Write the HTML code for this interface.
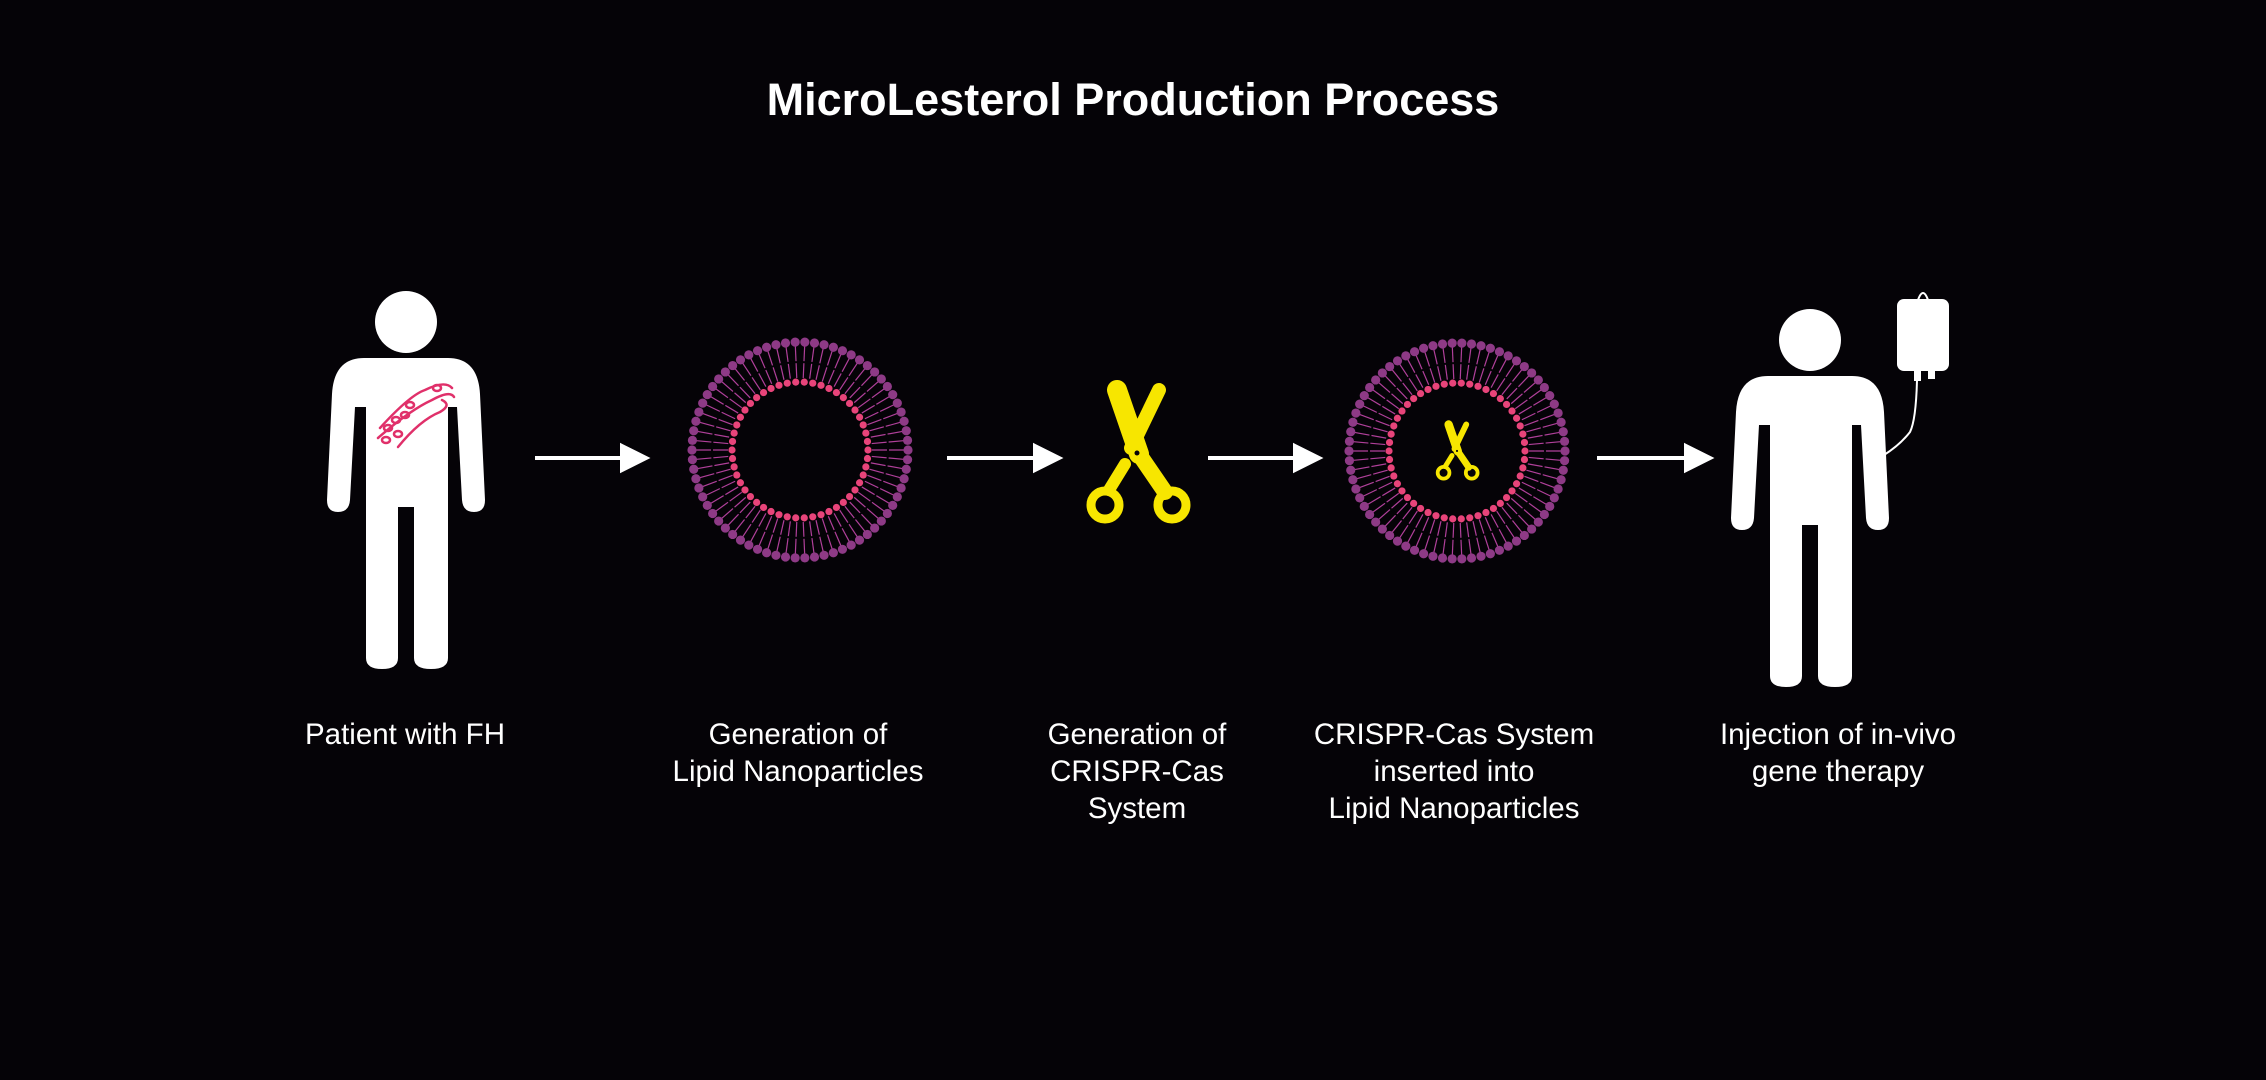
<!DOCTYPE html>
<html><head><meta charset="utf-8">
<style>
html,body{margin:0;padding:0;background:#050307;}
body{width:2266px;height:1080px;position:relative;overflow:hidden;font-family:"Liberation Sans",sans-serif;color:#fff;}
.t{position:absolute;text-align:center;font-size:29.5px;line-height:37px;width:400px;}
h1{position:absolute;margin:0;top:74px;left:0;width:2266px;text-align:center;font-size:45px;font-weight:bold;}
</style></head><body>
<h1>MicroLesterol Production Process</h1>
<svg id="s" width="2266" height="1080" style="position:absolute;left:0;top:0">
<defs>
<g id="person">
<circle cx="0" cy="0" r="31" fill="#fff"/>
<path d="M-42,36 H42 Q72,36 74,72 L79,178 Q79,190 68,190 Q57,190 56,178 L51,85 L42,85 L42,336 Q42,347 25,347 Q8,347 8,336 L8,185 L-8,185 L-8,336 Q-8,347 -24,347 Q-40,347 -40,336 L-40,85 L-51,85 L-56,178 Q-57,190 -68,190 Q-79,190 -79,178 L-74,72 Q-72,36 -42,36Z" fill="#fff"/>
</g>
<g id="sc" stroke="#f7e600" stroke-linecap="round" fill="none">
<line x1="22" y1="-56" x2="-6" y2="2" stroke-width="14"/>
<line x1="-12" y1="18" x2="-28" y2="44" stroke-width="12"/>
<line x1="-20" y1="-56" x2="2" y2="8" stroke-width="20"/>
<line x1="2" y1="8" x2="28" y2="46" stroke-width="16"/>
<circle cx="-32" cy="59" r="14" stroke-width="9"/>
<circle cx="35" cy="59" r="14" stroke-width="9"/>
<circle cx="0" cy="7" r="2.5" fill="#050307" stroke="none"/>
</g>
</defs>
<use href="#person" x="406" y="322"/>
<g fill="none" stroke="#e0306a" stroke-width="2.5" stroke-linecap="round">
<path d="M380,428 Q410,395 425,390 Q445,380 452,388"/>
<path d="M378,438 Q410,410 432,400 Q450,390 454,397"/>
<path d="M398,447 Q420,420 440,412 Q452,405 442,400"/>
<ellipse cx="388" cy="428" rx="4" ry="3"/><ellipse cx="396" cy="420" rx="4" ry="3"/><ellipse cx="405" cy="415" rx="4" ry="3"/><ellipse cx="386" cy="440" rx="4" ry="3"/><ellipse cx="398" cy="434" rx="4" ry="3"/><ellipse cx="437" cy="388" rx="4" ry="3"/><ellipse cx="410" cy="405" rx="4" ry="3"/>
</g>
<g stroke="#fff" stroke-width="4" fill="#fff">
<line x1="535" y1="458" x2="630" y2="458"/><path d="M622,446 L646,458 L622,470 Z"/>
<line x1="947" y1="458" x2="1043" y2="458"/><path d="M1035,446 L1059,458 L1035,470 Z"/>
<line x1="1208" y1="458" x2="1303" y2="458"/><path d="M1295,446 L1319,458 L1295,470 Z"/>
<line x1="1597" y1="458" x2="1694" y2="458"/><path d="M1686,446 L1710,458 L1686,470 Z"/>
</g>
<g id="c1"></g><g id="c2"></g>
<use href="#sc" x="1137" y="446"/>
<use href="#sc" transform="translate(1457,448) scale(0.42)"/>
<use href="#person" x="1810" y="340"/>
<rect x="1897" y="299" width="52" height="72" rx="7" fill="#fff"/>
<path d="M1918,300 Q1923,286 1928,300" stroke="#fff" stroke-width="2" fill="none"/>
<rect x="1914" y="369" width="7" height="12" fill="#fff"/><rect x="1928" y="369" width="7" height="10" fill="#fff"/>
<path d="M1917,380 Q1916,420 1910,432 Q1900,445 1884,455" stroke="#fff" stroke-width="2" fill="none"/>
</svg>
<script>
function mem(id,cx,cy,sc){
 var g=document.getElementById(id),h='',N=70,i,a;
 for(i=0;i<N;i++){a=2*Math.PI*i/N;var c=Math.cos(a),s=Math.sin(a);
  h+='<line x1="'+(cx+c*72*sc)+'" y1="'+(cy+s*72*sc)+'" x2="'+(cx+c*104*sc)+'" y2="'+(cy+s*104*sc)+'" stroke="#b0409a" stroke-width="1.2"/>';
  h+='<circle cx="'+(cx+c*108*sc)+'" cy="'+(cy+s*108*sc)+'" r="'+4.6*sc+'" fill="#8e3a86"/>';}
 for(i=0;i<50;i++){a=2*Math.PI*i/50;
  h+='<circle cx="'+(cx+Math.cos(a)*68*sc)+'" cy="'+(cy+Math.sin(a)*68*sc)+'" r="'+3.6*sc+'" fill="#e8447a"/>';}
 h+='<circle cx="'+cx+'" cy="'+cy+'" r="'+88*sc+'" fill="none" stroke="#050307" stroke-width="2"/>';
 g.innerHTML=h;
}
mem('c1',800,450,1);mem('c2',1457,451,1);
</script>
<div class="t" style="left:205px;top:716px">Patient with FH</div>
<div class="t" style="left:598px;top:716px">Generation of<br>Lipid Nanoparticles</div>
<div class="t" style="left:937px;top:716px">Generation of<br>CRISPR-Cas<br>System</div>
<div class="t" style="left:1254px;top:716px">CRISPR-Cas System<br>inserted into<br>Lipid Nanoparticles</div>
<div class="t" style="left:1638px;top:716px">Injection of in-vivo<br>gene therapy</div>
</body></html>
